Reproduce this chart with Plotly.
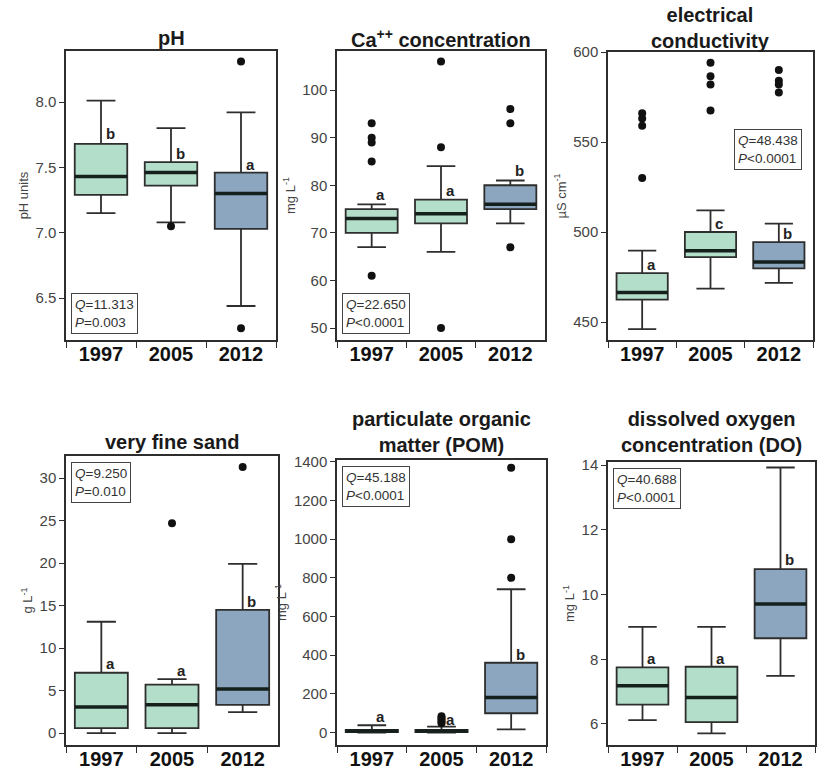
import plotly.graph_objects as go

YEARS = ["1997", "2005", "2012"]

# pH
PH_LOW = [7.15, 7.08, 6.44]
PH_Q1 = [7.29, 7.36, 7.03]
PH_MED = [7.43, 7.46, 7.30]
PH_Q3 = [7.68, 7.54, 7.46]
PH_HIGH = [8.01, 7.80, 7.92]
PH_OUT = [[], [7.05], [8.31, 6.27]]
PH_LETTERS = ["b", "b", "a"]
PH_LETTER_Y = [7.76, 7.61, 7.52]
PH_Q, PH_P = "11.313", "=0.003"

# Ca++
CA_LOW = [67, 66, 72]
CA_Q1 = [70, 72, 75]
CA_MED = [73, 74, 76]
CA_Q3 = [75, 77, 80]
CA_HIGH = [76, 84, 81]
CA_OUT = [[93, 90, 89, 85, 61], [106, 88, 50], [96, 93, 67]]
CA_LETTERS = ["a", "a", "b"]
CA_LETTER_Y = [78, 79, 83]
CA_Q, CA_P = "22.650", "<0.0001"

# electrical conductivity
EC_LOW = [446, 468.5, 471.7]
EC_Q1 = [462.4, 486, 479.8]
EC_MED = [466.4, 489.6, 483.3]
EC_Q3 = [477.2, 500, 494.4]
EC_HIGH = [489.6, 512, 504.6]
EC_OUT = [[566, 563, 559, 530], [594, 586.5, 582, 567.5], [590, 584, 582, 577.5]]
EC_LETTERS = ["a", "c", "b"]
EC_LETTER_Y = [481.8, 504.6, 499.4]
EC_Q, EC_P = "48.438", "<0.0001"

# very fine sand
VS_LOW = [0, 0, 2.47]
VS_Q1 = [0.59, 0.59, 3.33]
VS_MED = [3.06, 3.33, 5.18]
VS_Q3 = [7.1, 5.7, 14.5]
VS_HIGH = [13.1, 6.35, 19.9]
VS_OUT = [[], [24.7], [31.3]]
VS_LETTERS = ["a", "a", "b"]
VS_LETTER_Y = [8.2, 7.4, 15.5]
VS_Q, VS_P = "9.250", "=0.010"

# particulate organic matter
POM_LOW = [0, 0, 17]
POM_Q1 = [3, 3, 100]
POM_MED = [8, 9, 181]
POM_Q3 = [14, 14, 361]
POM_HIGH = [38, 31, 741]
POM_OUT = [[], [48, 58, 67, 76, 85], [1369, 1000, 800]]
POM_LETTERS = ["a", "a", "b"]
POM_LETTER_Y = [82, 69, 406]
POM_Q, POM_P = "45.188", "<0.0001"

# dissolved oxygen
DO_LOW = [6.12, 5.71, 7.49]
DO_Q1 = [6.6, 6.06, 8.65]
DO_MED = [7.18, 6.82, 9.71]
DO_Q3 = [7.75, 7.77, 10.79]
DO_HIGH = [9.0, 9.0, 13.93]
DO_OUT = [[], [], []]
DO_LETTERS = ["a", "a", "b"]
DO_LETTER_Y = [8.03, 8.03, 11.08]
DO_Q, DO_P = "40.688", "<0.0001"

W, H = 817, 769
FILLS = ["#b3dfca", "#b3dfca", "#8ba6be"]
LINE = "#2e2e2e"
FONT = "Liberation Sans, Arial, sans-serif"

panels = [
    dict(low=PH_LOW, q1=PH_Q1, med=PH_MED, q3=PH_Q3, high=PH_HIGH, out=PH_OUT,
         letters=PH_LETTERS, ly=PH_LETTER_Y, q=PH_Q, p=PH_P,
         title="pH", title_y=38, ytitle="pH units", yrange=[6.18, 8.39], tick0=6.5, dtick=0.5, fmt=".1f",
         box=(66, 276, 51, 340), stat="bl"),
    dict(low=CA_LOW, q1=CA_Q1, med=CA_MED, q3=CA_Q3, high=CA_HIGH, out=CA_OUT,
         letters=CA_LETTERS, ly=CA_LETTER_Y, q=CA_Q, p=CA_P,
         title="Ca<sup>++</sup> concentration", title_y=38, ytitle="mg L<sup>-1</sup>", yrange=[47.5, 108.2],
         tick0=50, dtick=10, fmt="d", box=(337, 545, 51, 340), stat="bl"),
    dict(low=EC_LOW, q1=EC_Q1, med=EC_MED, q3=EC_Q3, high=EC_HIGH, out=EC_OUT,
         letters=EC_LETTERS, ly=EC_LETTER_Y, q=EC_Q, p=EC_P,
         title="electrical<br>conductivity", title_y=28, ytitle="µS cm<sup>-1</sup>", yrange=[440, 600],
         tick0=450, dtick=50, fmt="d", box=(608, 813, 52, 340), stat="mr"),
    dict(low=VS_LOW, q1=VS_Q1, med=VS_MED, q3=VS_Q3, high=VS_HIGH, out=VS_OUT,
         letters=VS_LETTERS, ly=VS_LETTER_Y, q=VS_Q, p=VS_P,
         title="very fine sand", title_y=442, ytitle="g L<sup>-1</sup>", yrange=[-1.4, 32.6],
         tick0=0, dtick=5, fmt="d", box=(66, 278, 456, 745), stat="tl"),
    dict(low=POM_LOW, q1=POM_Q1, med=POM_MED, q3=POM_Q3, high=POM_HIGH, out=POM_OUT,
         letters=POM_LETTERS, ly=POM_LETTER_Y, q=POM_Q, p=POM_P,
         title="particulate organic<br>matter (POM)", title_y=432, ytitle="mg L<sup>-1</sup>",
         yrange=[-64, 1409], tick0=0, dtick=200, fmt="d", box=(337, 546, 460, 745), stat="tl"),
    dict(low=DO_LOW, q1=DO_Q1, med=DO_MED, q3=DO_Q3, high=DO_HIGH, out=DO_OUT,
         letters=DO_LETTERS, ly=DO_LETTER_Y, q=DO_Q, p=DO_P,
         title="dissolved oxygen<br>concentration (DO)", title_y=432, ytitle="mg L<sup>-1</sup>",
         yrange=[5.35, 14.1], tick0=6, dtick=2, fmt="d", box=(608, 815, 462, 745), stat="tl"),
]

fig = go.Figure()
layout = dict(width=W, height=H, margin=dict(l=0, r=0, t=0, b=0, autoexpand=False), showlegend=False,
              paper_bgcolor="white", plot_bgcolor="white", boxmode="overlay",
              font=dict(family=FONT, color="#333"))
annotations, shapes = [], []

for k, pn in enumerate(panels):
    n = "" if k == 0 else str(k + 1)
    xa, ya = "x" + n, "y" + n
    x0, x1, top, bot = pn["box"]
    for i, yr in enumerate(YEARS):
        fig.add_trace(go.Box(
            x=[yr], q1=[pn["q1"][i]], median=[pn["med"][i]], q3=[pn["q3"][i]],
            lowerfence=[pn["low"][i]], upperfence=[pn["high"][i]],
            fillcolor=FILLS[i], line=dict(color=LINE, width=1.8), width=0.75,
            whiskerwidth=0.55, boxpoints=False, xaxis=xa, yaxis=ya, hoverinfo="skip"))
        shapes.append(dict(type="line", xref=xa, yref=ya, x0=i - 0.375, x1=i + 0.375,
                           y0=pn["med"][i], y1=pn["med"][i], line=dict(color="#151f1c", width=3.5)))
        if pn["out"][i]:
            fig.add_trace(go.Scatter(x=[yr] * len(pn["out"][i]), y=pn["out"][i], mode="markers",
                                     marker=dict(color="#111", size=8), xaxis=xa, yaxis=ya,
                                     hoverinfo="skip"))
        annotations.append(dict(x=i + 0.13, y=pn["ly"][i], xref=xa, yref=ya, text="<b>%s</b>" % pn["letters"][i],
                                showarrow=False, font=dict(size=15, color="#222"), xanchor="center",
                                yanchor="middle"))
    layout["xaxis" + n] = dict(domain=[x0 / W, x1 / W], anchor=ya, type="category", automargin=False,
                               categoryorder="array", categoryarray=YEARS, range=[-0.5, 2.5],
                               tickson="boundaries", ticks="outside", ticklen=6, tickwidth=1.3,
                               ticklabelstandoff=-5,
                               tickcolor=LINE, showline=True, mirror=True, linecolor=LINE, linewidth=1.5,
                               showgrid=False, zeroline=False,
                               tickfont=dict(size=20, color="#111", weight="bold"))
    layout["yaxis" + n] = dict(domain=[1 - bot / H, 1 - top / H], anchor=xa, range=pn["yrange"],
                               automargin=False,
                               tick0=pn["tick0"], dtick=pn["dtick"], tickformat=pn["fmt"],
                               ticks="outside", ticklen=5, tickwidth=1.3, tickcolor=LINE,
                               showline=True, mirror=True, linecolor=LINE, linewidth=1.5,
                               showgrid=False, zeroline=False,
                               tickfont=dict(size=15, color="#444"),
                               title=dict(text=pn["ytitle"], font=dict(size=13, color="#444"), standoff=4))
    annotations.append(dict(x=(x0 + x1) / 2 / W, y=1 - pn["title_y"] / H, xref="paper", yref="paper",
                            text="<b>%s</b>" % pn["title"], showarrow=False, xanchor="center",
                            yanchor="middle", font=dict(size=20, color="#1a1a1a")))
    stat = dict(text="<i>Q</i>=%s<br><i>P</i>%s" % (pn["q"], pn["p"]), showarrow=False,
                xref=xa + " domain", yref=ya + " domain", bordercolor="#444", borderwidth=1,
                borderpad=3, bgcolor="white", font=dict(size=13.5, color="#333"), align="left")
    if pn["stat"] == "bl":
        stat.update(x=0.022, y=0.022, xanchor="left", yanchor="bottom")
    elif pn["stat"] == "tl":
        stat.update(x=0.022, y=0.98, xanchor="left", yanchor="top")
    else:
        stat.update(x=0.946, y=0.663, xanchor="right", yanchor="middle")
    annotations.append(stat)

layout["annotations"] = annotations
layout["shapes"] = shapes
fig.update_layout(**layout)
fig.write_html("out.html", config={"displayModeBar": False},
               post_script="document.body.style.margin='0';document.body.style.overflow='hidden';")
